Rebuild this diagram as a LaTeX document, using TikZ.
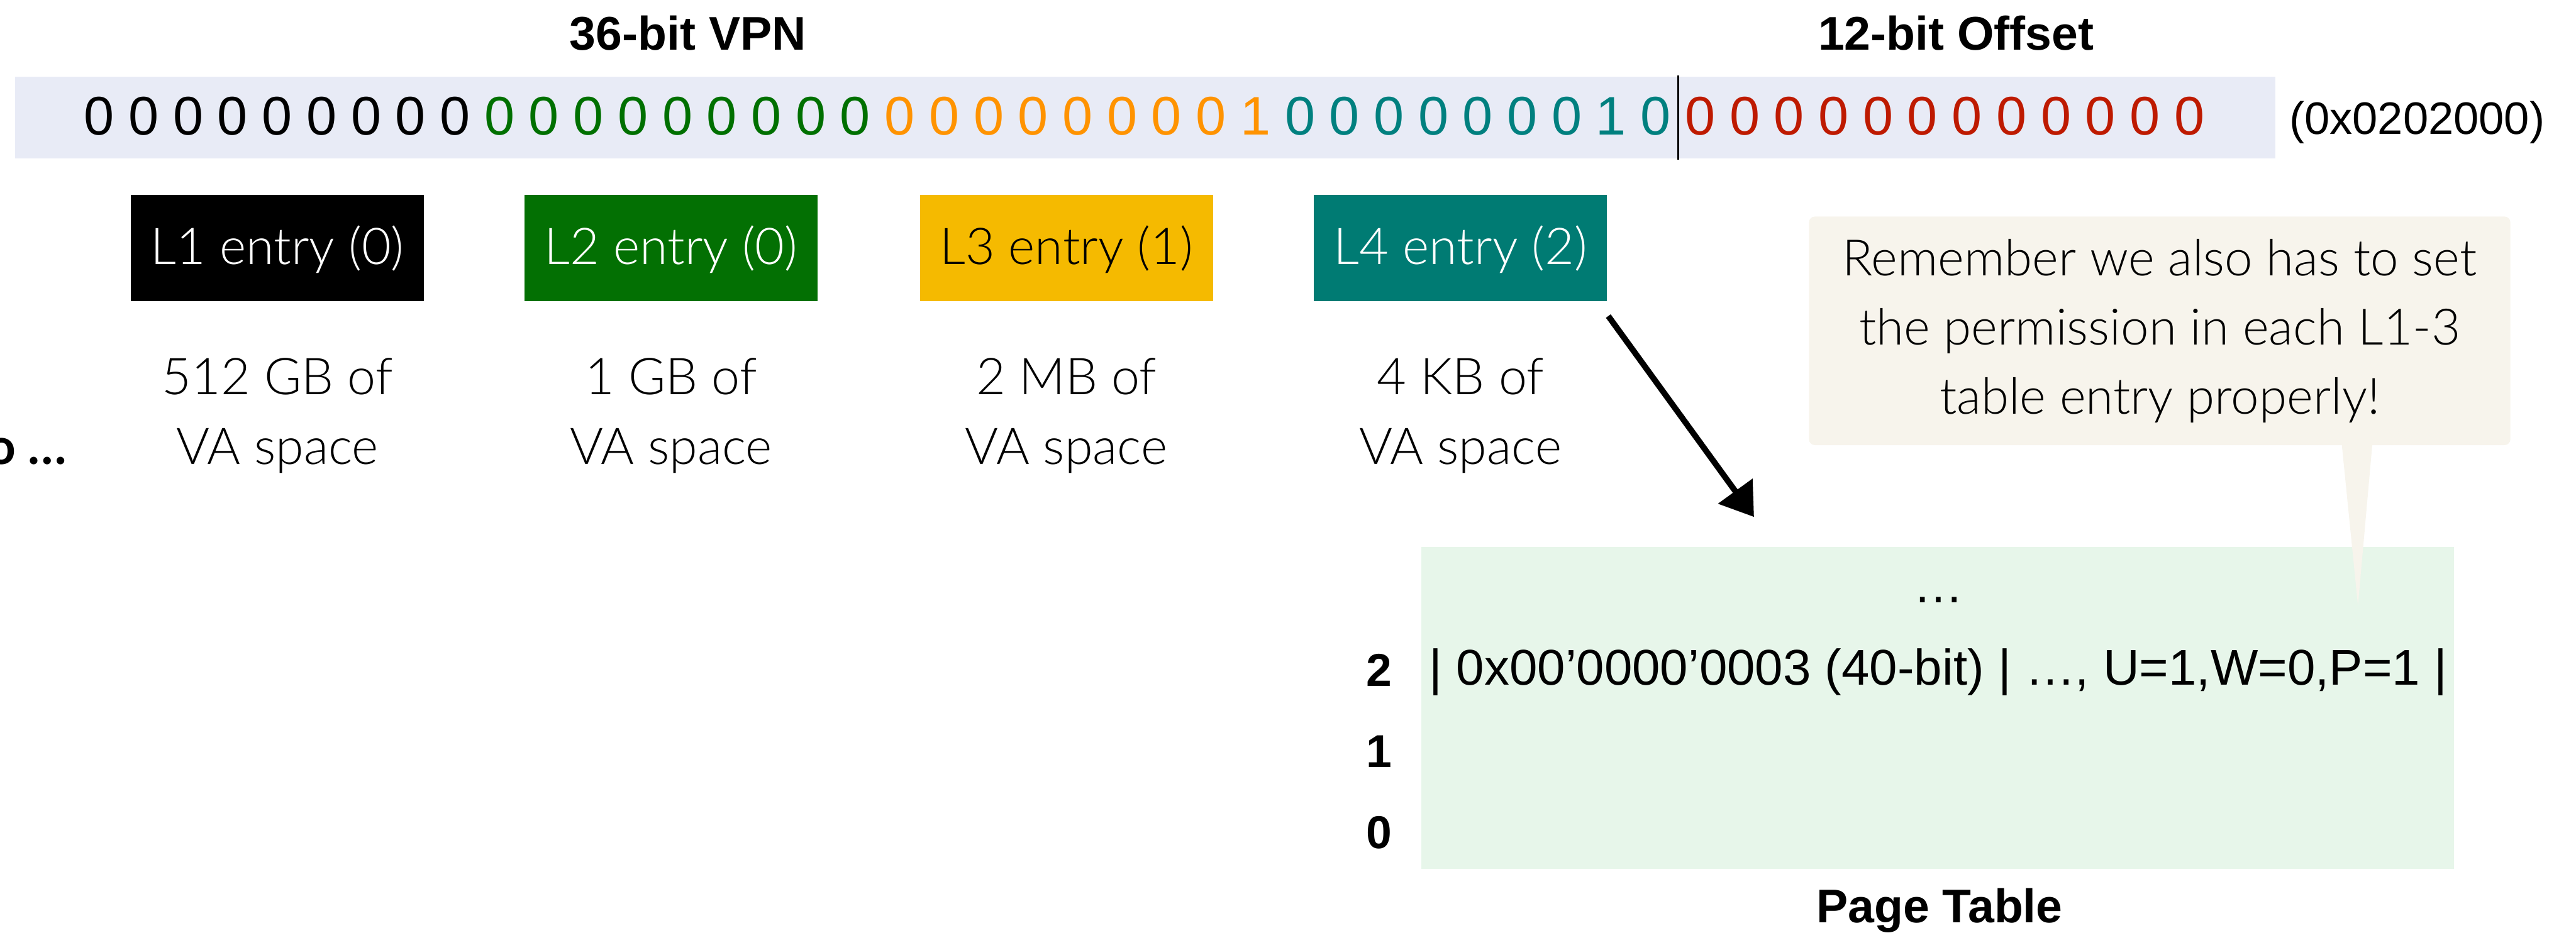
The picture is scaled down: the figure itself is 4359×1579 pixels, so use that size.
\documentclass[tikz,border=0pt]{standalone}
\usepackage{fontspec}
\setmainfont{Lato}[UprightFont=* Light, BoldFont=* Bold]
\newfontfamily\hv{Liberation Sans}
\usetikzlibrary{arrows.meta}
\definecolor{bitc0}{RGB}{0,0,0}
\definecolor{bitc1}{RGB}{0,112,0}
\definecolor{bitc2}{RGB}{255,147,0}
\definecolor{bitc3}{RGB}{0,128,127}
\definecolor{bitc4}{RGB}{190,26,0}
\definecolor{barfill}{RGB}{232,235,246}
\definecolor{lgreen}{RGB}{3,112,3}
\definecolor{lyellow}{RGB}{245,186,0}
\definecolor{lteal}{RGB}{0,123,115}
\definecolor{notefill}{RGB}{247,244,236}
\definecolor{tablefill}{RGB}{231,246,234}
\begin{document}
\begin{tikzpicture}[x=0.1pt,y=-0.1pt,
  bit/.style={anchor=base, inner sep=0pt, font=\hv\fontsize{9.2}{11}\selectfont},
  title/.style={anchor=base, inner sep=0pt, font=\hv\bfseries\fontsize{8}{10}\selectfont},
  lbox/.style={rectangle, inner sep=0pt, minimum width=49.6pt, minimum height=18pt,
     font=\fontsize{8.6}{10}\selectfont, text height=7pt, text depth=1.6pt},
  desc/.style={anchor=base, inner sep=0pt, font=\fontsize{8.6}{10}\selectfont},
  hvtext/.style={anchor=base, inner sep=0pt, font=\hv\fontsize{8.5}{10}\selectfont},
  rownum/.style={anchor=base, inner sep=0pt, font=\hv\bfseries\fontsize{7.8}{9}\selectfont},
  arrowline/.style={line width=1pt, -{Triangle[length=5.4pt,width=7pt]}}
]
\useasboundingbox (0,0) rectangle (4359,1579);

% titles
\node[title] (vpn) at (1164,85) {36-bit VPN};
\node[title] (off) at (3310,85) {12-bit Offset};

% bit bar
\node[rectangle, fill=barfill, inner sep=0pt, minimum width=382.5pt, minimum height=13.8pt] (bar) at (1937.5,199) {};
\draw[line width=0.3pt] (bar.north west -| 2840,0) coordinate (divtop) -- (bar.south west -| 2840,0) coordinate (divbot);
\foreach \i in {0,...,47}{
  \pgfmathtruncatemacro\grp{\i<9 ? 0 : (\i<18 ? 1 : (\i<27 ? 2 : (\i<36 ? 3 : 4)))}
  \pgfmathtruncatemacro\val{or(\i==26,\i==34) ? 1 : 0}
  \node[bit, text=bitc\grp] (b\i) at ({168+75.25*\i},228) {\val};
}
\node[hvtext, font=\hv\fontsize{7.7}{9}\selectfont] (hex) at (4090,227) {(0x0202000)};

% level boxes
\node[lbox, fill=black, text=white] (L1) at (469.5,420) {L1 entry (0)};
\node[lbox, fill=lgreen, text=white] (L2) at (1135.5,420) {L2 entry (0)};
\node[lbox, fill=lyellow, text=black] (L3) at (1804.5,420) {L3 entry (1)};
\node[lbox, fill=lteal, text=white] (L4) at (2471.5,420) {L4 entry (2)};

% descriptions
\node[desc] (d1a) at (469.5,668) {512 GB of};
\node[desc] (d1b) at (469.5,786) {VA space};
\node[desc] (d2a) at (1135.5,668) {1 GB of};
\node[desc] (d2b) at (1135.5,786) {VA space};
\node[desc] (d3a) at (1804.5,668) {2 MB of};
\node[desc] (d3b) at (1804.5,786) {VA space};
\node[desc] (d4a) at (2471.5,668) {4 KB of};
\node[desc] (d4b) at (2471.5,786) {VA space};
\node[desc, anchor=base west, font=\bfseries\fontsize{8.5}{10}\selectfont] (cut) at (-24,786) {o …};

% page table
\node[rectangle, fill=tablefill, inner sep=0pt, minimum width=174.8pt, minimum height=54.5pt] (pt) at (3279,1198.5) {};
\node[hvtext] (dots) at (3280,1020) {…};
\node[hvtext] (e2) at (3280,1159) {| 0x00’0000’0003 (40-bit) | …, U=1,W=0,P=1 |};
\node[rownum] (r2) at (2334,1162) {2};
\node[rownum] (r1) at (2334,1299) {1};
\node[rownum] (r0) at (2334,1436) {0};
\node[title] (ptl) at (3282,1562) {Page Table};

% arrow
\coordinate (as) at ([yshift=-2.3pt]L4.south east);
\coordinate (ae) at ([xshift=56.5pt,yshift=4.9pt]pt.north west);
\draw[arrowline] (as) -- (ae);

% callout
\node[rectangle, rounded corners=1pt, fill=notefill, inner sep=0pt, minimum width=118.7pt, minimum height=38.7pt,
      align=center, font=\fontsize{8.5}{11.7}\selectfont] (note) at (3654.5,560)
      {Remember we also has to set\\the permission in each L1-3\\table entry properly!};
\coordinate (tip) at (3990,1025);
\fill[notefill] ([xshift=30.8pt,yshift=0.5pt]note.south) -- ([xshift=36pt,yshift=0.5pt]note.south) -- (tip) -- cycle;
\end{tikzpicture}
\end{document}
